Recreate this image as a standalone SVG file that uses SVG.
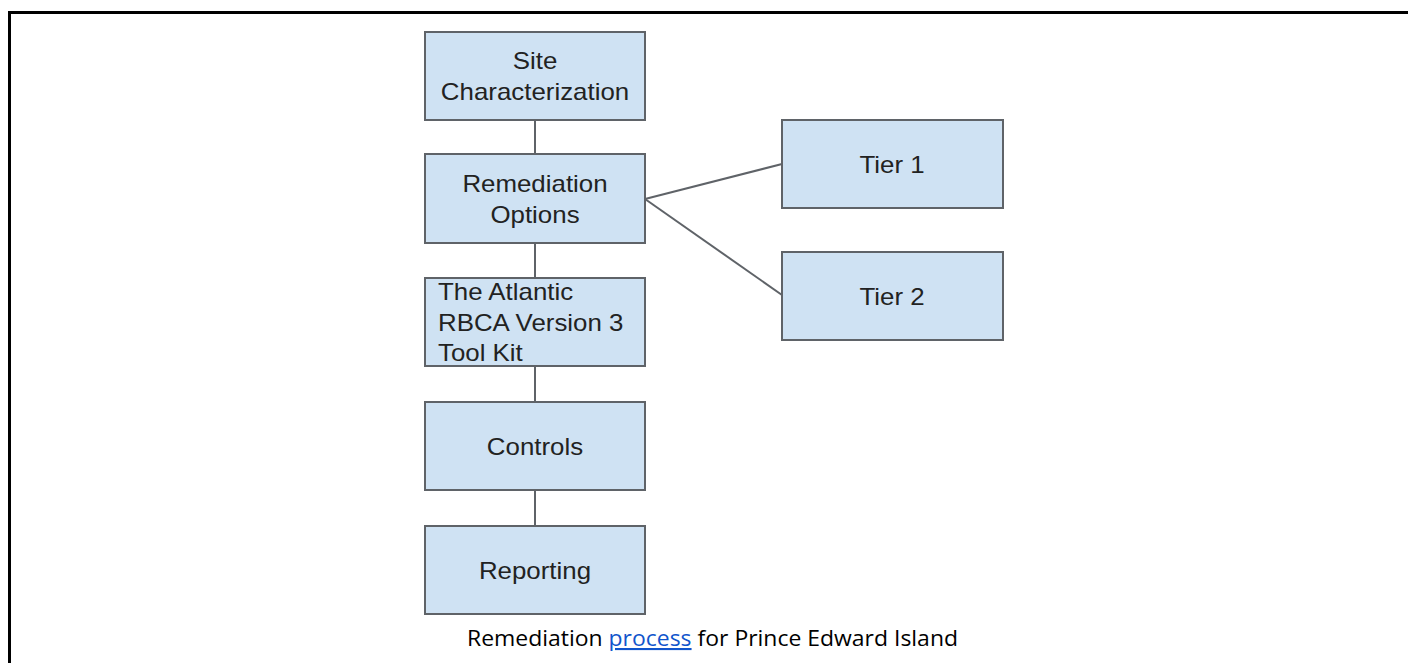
<svg xmlns="http://www.w3.org/2000/svg" width="1408" height="663" viewBox="0 0 1408 663">
  <style>
    .box { fill: #cfe2f3; stroke: #5f6368; stroke-width: 2; }
    .lbl { font-family: "Liberation Sans", Arial, sans-serif; font-size: 23px; fill: #222; }
    .mid { text-anchor: middle; }
    .link { stroke: #5f6368; stroke-width: 2; fill: none; }
    .cap { font-family: "Open Sans", "Noto Sans", sans-serif; font-size: 21px; fill: #000; }
  </style>
  <rect width="1408" height="663" fill="#fff"/>
  <!-- page frame -->
  <path d="M9.5 663 V12.5 H1408" fill="none" stroke="#000" stroke-width="3"/>

  <g id="connectors">
    <line class="link" x1="535" y1="120" x2="535" y2="154"/>
    <line class="link" x1="535" y1="243" x2="535" y2="278"/>
    <line class="link" x1="535" y1="366" x2="535" y2="402"/>
    <line class="link" x1="535" y1="490" x2="535" y2="526"/>
    <line class="link" x1="645" y1="199" x2="782" y2="164"/>
    <line class="link" x1="645" y1="199" x2="782" y2="295"/>
  </g>

  <g id="site-characterization">
    <rect class="box" x="425" y="32" width="220" height="88"/>
    <g transform="translate(535 0) scale(1.125 1) translate(-535 0)">
      <text class="lbl mid" x="535" y="69">Site</text>
      <text class="lbl mid" x="535" y="100">Characterization</text>
    </g>
  </g>
  <g id="remediation-options">
    <rect class="box" x="425" y="154" width="220" height="89"/>
    <g transform="translate(535 0) scale(1.125 1) translate(-535 0)">
      <text class="lbl mid" x="535" y="192">Remediation</text>
      <text class="lbl mid" x="535" y="223">Options</text>
    </g>
  </g>
  <g id="atlantic-rbca">
    <rect class="box" x="425" y="278" width="220" height="88"/>
    <g transform="translate(438 0) scale(1.125 1) translate(-438 0)">
      <text class="lbl" x="438" y="300">The Atlantic</text>
      <text class="lbl" x="438" y="331">RBCA Version 3</text>
      <text class="lbl" x="438" y="361">Tool Kit</text>
    </g>
  </g>
  <g id="controls">
    <rect class="box" x="425" y="402" width="220" height="88"/>
    <g transform="translate(535 0) scale(1.125 1) translate(-535 0)">
      <text class="lbl mid" x="535" y="455">Controls</text>
    </g>
  </g>
  <g id="reporting">
    <rect class="box" x="425" y="526" width="220" height="88"/>
    <g transform="translate(535 0) scale(1.125 1) translate(-535 0)">
      <text class="lbl mid" x="535" y="579">Reporting</text>
    </g>
  </g>
  <g id="tier-1">
    <rect class="box" x="782" y="120" width="221" height="88"/>
    <g transform="translate(892 0) scale(1.125 1) translate(-892 0)">
      <text class="lbl mid" x="892" y="173">Tier 1</text>
    </g>
  </g>
  <g id="tier-2">
    <rect class="box" x="782" y="252" width="221" height="88"/>
    <g transform="translate(892 0) scale(1.125 1) translate(-892 0)">
      <text class="lbl mid" x="892" y="305">Tier 2</text>
    </g>
  </g>

  <text class="cap" x="467" y="646" textLength="491" lengthAdjust="spacingAndGlyphs">Remediation <tspan fill="#1155cc" text-decoration="underline">process</tspan> for Prince Edward Island</text>
</svg>
